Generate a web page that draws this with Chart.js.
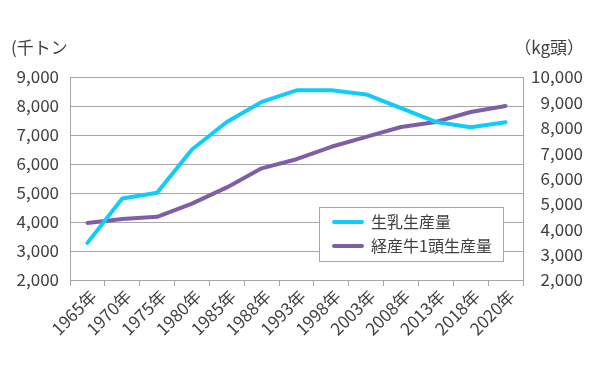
<!DOCTYPE html>
<html><head><meta charset="utf-8">
<script src="https://cdn.jsdelivr.net/npm/chart.js@4"></script>
<style>html,body{margin:0;padding:0;background:#fff}#wrap{width:600px;height:380px}</style>
</head><body><div id="wrap"><canvas id="c" width="600" height="380"></canvas></div>
<script>
const categories = ["1965年","1970年","1975年","1980年","1985年","1988年","1993年","1998年","2003年","2008年","2013年","2018年","2020年"];
const milkProduction = [3280, 4810, 5010, 6500, 7450, 8140, 8540, 8540, 8400, 7930, 7450, 7270, 7440];
const yieldPerCow = [4250, 4400, 4490, 5010, 5650, 6400, 6760, 7250, 7640, 8030, 8230, 8620, 8860];
const seriesNames = ["生乳生産量", "経産牛1頭生産量"];
const leftUnit = "(千トン";
const rightUnit = "（kg頭）";

const FONT = "'Noto Sans CJK JP', 'Noto Sans', sans-serif";
const TXT = "#404040";
const GRID = "#a6a6a6";

const overlay = {
  id: 'overlay',
  afterDraw(chart) {
    const ctx = chart.ctx;
    ctx.save();
    ctx.font = "17px " + FONT;
    ctx.fillStyle = TXT;
    ctx.textBaseline = "alphabetic";
    ctx.textAlign = "left";
    ctx.fillText(leftUnit, 11, 54);
    ctx.textAlign = "right";
    ctx.fillText(rightUnit, 584, 54);
    // legend box
    const bx = 319, by = 207, bw = 184, bh = 54;
    ctx.fillStyle = "#fff";
    ctx.fillRect(bx, by, bw, bh);
    ctx.strokeStyle = GRID; ctx.lineWidth = 1;
    ctx.strokeRect(bx + 0.5, by + 0.5, bw, bh);
    ctx.font = "16px " + FONT;
    chart.data.datasets.forEach((ds, i) => {
      const y = by + 15 + i * 24;
      ctx.strokeStyle = ds.borderColor; ctx.lineWidth = 4; ctx.lineCap = "round";
      ctx.beginPath(); ctx.moveTo(334, y); ctx.lineTo(362, y); ctx.stroke();
      ctx.fillStyle = TXT; ctx.textAlign = "left"; ctx.textBaseline = "middle";
      ctx.fillText(ds.label, 371, y);
    });
    ctx.restore();
  }
};

new Chart(document.getElementById('c'), {
  type: 'line',
  data: {
    labels: categories,
    datasets: [
      { label: seriesNames[0], data: milkProduction, yAxisID: 'y', borderColor: '#10CCF8', backgroundColor: '#10CCF8', borderWidth: 4, pointRadius: 0, tension: 0, borderCapStyle: 'round', borderJoinStyle: 'round' },
      { label: seriesNames[1], data: yieldPerCow, yAxisID: 'y1', borderColor: '#7E5FA6', backgroundColor: '#7E5FA6', borderWidth: 4, pointRadius: 0, tension: 0, borderCapStyle: 'round', borderJoinStyle: 'round' }
    ]
  },
  options: {
    responsive: false,
    animation: false,
    layout: { padding: { top: 77, left: 0, right: 17, bottom: 0 } },
    plugins: { legend: { display: false }, tooltip: { enabled: false } },
    scales: {
      x: {
        offset: true,
        afterFit(s) { s.height = 100; },
        grid: { drawOnChartArea: false, drawTicks: true, tickLength: 6, offset: true, color: GRID },
        border: { color: GRID },
        ticks: { color: TXT, font: { size: 17, family: FONT }, minRotation: 45, maxRotation: 45, padding: 0, labelOffset: 6 }
      },
      y: {
        position: 'left', min: 2000, max: 9000,
        afterFit(s) { s.width = 70; },
        ticks: { stepSize: 1000, color: TXT, font: { size: 17, family: FONT }, padding: 11 },
        grid: { color: GRID, drawTicks: false },
        border: { color: GRID }
      },
      y1: {
        position: 'right', min: 2000, max: 10000,
        afterFit(s) { s.width = 60; },
        ticks: { stepSize: 1000, color: TXT, font: { size: 17, family: FONT }, padding: 6, crossAlign: 'far' },
        grid: { drawOnChartArea: false, drawTicks: false },
        border: { color: GRID }
      }
    }
  },
  plugins: [overlay]
});
</script></body></html>
